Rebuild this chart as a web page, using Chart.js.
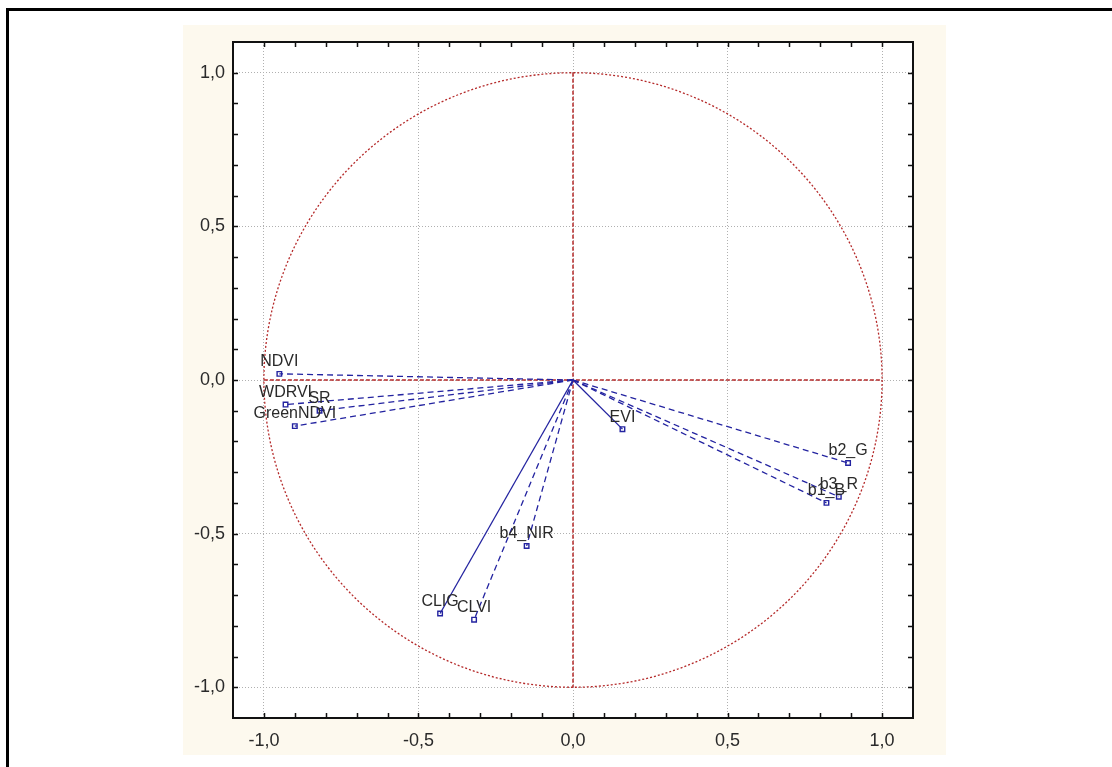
<!DOCTYPE html>
<html><head><meta charset="utf-8">
<script src="https://cdn.jsdelivr.net/npm/chart.js@4.4.1/dist/chart.umd.min.js"></script>
<style>html,body{margin:0;padding:0;background:#fff;overflow:hidden}canvas{display:block}</style>
</head><body>
<canvas id="c" width="1112" height="767"></canvas>
<script>
// ---- data (factor loadings) ----
const variableNames = ['NDVI','WDRVI','SR','GreenNDVI','EVI','b2_G','b3_R','b1_B','b4_NIR','CLIG','CLVI'];
const loadingsX     = [-0.95, -0.93, -0.82, -0.90, 0.16, 0.89, 0.86, 0.82, -0.15, -0.43, -0.32];
const loadingsY     = [ 0.02, -0.08, -0.10, -0.15, -0.16, -0.27, -0.38, -0.40, -0.54, -0.76, -0.78];
const solidVariables = ['EVI','CLIG'];
const majorTicks = [-1.0, -0.5, 0.0, 0.5, 1.0];
const axisMin = -1.1, axisMax = 1.1;

const NAVY = '#2323a0';
const RED = '#b52a2a';
const FONT = '"Liberation Sans", Arial, sans-serif';

const fmt = v => (Math.abs(v) < 1e-9 ? 0 : v).toFixed(1).replace('.', ',');

const datasets = variableNames.map((name, i) => ({
  label: name,
  data: [{x: 0, y: 0}, {x: loadingsX[i], y: loadingsY[i]}],
  showLine: true,
  borderColor: NAVY,
  borderWidth: 1.3,
  borderDash: solidVariables.includes(name) ? [] : [6, 4],
  pointRadius: [0, 3.2],
  pointStyle: 'rect',
  pointBorderColor: NAVY,
  pointBackgroundColor: 'rgba(255,255,255,0)',
  pointBorderWidth: 1.4,
  clip: false
}));

const decor = {
  id: 'decor',
  beforeDraw(chart) {
    const {ctx, chartArea: a} = chart;
    ctx.save();
    ctx.fillStyle = '#ffffff';
    ctx.fillRect(0, 0, chart.width, chart.height);
    // outer black frame (left and top edges visible)
    ctx.fillStyle = '#000';
    ctx.fillRect(6, 8, chart.width - 6, 3);
    ctx.fillRect(6, 8, 3, chart.height - 8);
    // cream panel
    ctx.fillStyle = '#fdf9ee';
    ctx.fillRect(183, 25, 763, 730);
    // white plot area
    ctx.fillStyle = '#ffffff';
    ctx.fillRect(a.left, a.top, a.right - a.left, a.bottom - a.top);
    ctx.restore();
  },
  beforeDatasetsDraw(chart) {
    const {ctx} = chart;
    const xs = chart.scales.x, ys = chart.scales.y;
    const cx = xs.getPixelForValue(0), cy = ys.getPixelForValue(0);
    const rx = xs.getPixelForValue(1) - cx, ry = cy - ys.getPixelForValue(1);
    ctx.save();
    ctx.strokeStyle = RED;
    ctx.lineWidth = 1.3;
    ctx.setLineDash([2, 2]);
    ctx.beginPath();
    ctx.ellipse(cx, cy, rx, ry, 0, 0, Math.PI * 2);
    ctx.stroke();
    ctx.lineWidth = 1.5;
    ctx.setLineDash([4, 2]);
    ctx.beginPath();
    ctx.moveTo(cx, ys.getPixelForValue(1));
    ctx.lineTo(cx, ys.getPixelForValue(-1));
    ctx.moveTo(xs.getPixelForValue(-1), cy);
    ctx.lineTo(xs.getPixelForValue(1), cy);
    ctx.stroke();
    ctx.restore();
  },
  afterDatasetsDraw(chart) {
    const {ctx, chartArea: a} = chart;
    const xs = chart.scales.x, ys = chart.scales.y;
    ctx.save();
    // frame
    ctx.strokeStyle = '#111';
    ctx.lineWidth = 2;
    ctx.setLineDash([]);
    ctx.strokeRect(a.left, a.top, a.right - a.left, a.bottom - a.top);
    // inner ticks every 0.1
    ctx.lineWidth = 1.5;
    ctx.beginPath();
    for (let k = -10; k <= 10; k++) {
      const v = k / 10;
      const len = 5;
      const px = Math.round(xs.getPixelForValue(v)) + 0.5;
      const py = Math.round(ys.getPixelForValue(v)) + 0.5;
      ctx.moveTo(px, a.bottom); ctx.lineTo(px, a.bottom - len);
      ctx.moveTo(px, a.top); ctx.lineTo(px, a.top + len);
      ctx.moveTo(a.left, py); ctx.lineTo(a.left + len, py);
      ctx.moveTo(a.right, py); ctx.lineTo(a.right - len, py);
    }
    ctx.stroke();
    // variable labels
    ctx.fillStyle = '#2a2a2a';
    ctx.font = '16px ' + FONT;
    ctx.textAlign = 'center';
    ctx.textBaseline = 'bottom';
    variableNames.forEach((name, i) => {
      const px = xs.getPixelForValue(loadingsX[i]);
      const py = ys.getPixelForValue(loadingsY[i]);
      ctx.fillText(name, px, py - 4);
    });
    ctx.restore();
  }
};

const axisCommon = (isX) => ({
  type: 'linear',
  min: axisMin,
  max: axisMax,
  afterBuildTicks: s => { s.ticks = majorTicks.map(v => ({value: v})); },
  afterFit: s => { if (isX) s.height = 37; else s.width = 50; },
  grid: {
    color: '#b0b0b0',
    lineWidth: 1,
    drawTicks: false
  },
  border: { display: false, dash: [1, 2] },
  ticks: {
    callback: v => fmt(v),
    color: '#2a2a2a',
    font: { family: FONT, size: 18 },
    padding: isX ? 12 : 8,
    maxRotation: 0,
    autoSkip: false
  }
});

new Chart(document.getElementById('c'), {
  type: 'scatter',
  data: { datasets },
  options: {
    responsive: false,
    animation: false,
    layout: { padding: { left: 183, top: 42, right: 199, bottom: 12 } },
    plugins: { legend: { display: false }, tooltip: { enabled: false }, title: { display: false } },
    scales: { x: axisCommon(true), y: axisCommon(false) }
  },
  plugins: [decor]
});
</script>
</body></html>
